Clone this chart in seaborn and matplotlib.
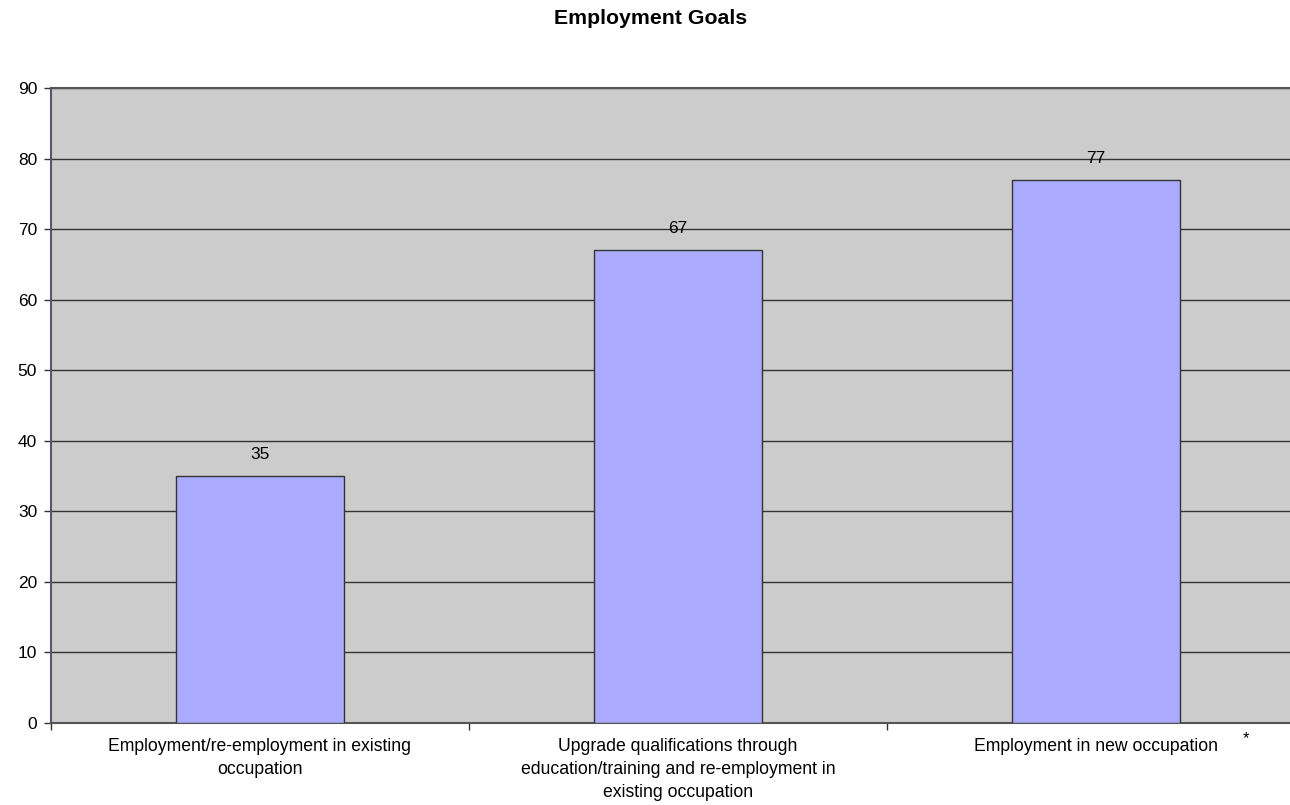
import matplotlib
matplotlib.use("Agg")
import matplotlib.pyplot as plt
import seaborn as sns
import pandas as pd

categories = [
    "Employment/re-employment in existing\noccupation",
    "Upgrade qualifications through\neducation/training and re-employment in\nexisting occupation",
    "Employment in new occupation",
]
values = [35, 67, 77]
y_ticks = [0, 10, 20, 30, 40, 50, 60, 70, 80, 90]

sns.set_style("white")
plt.rcParams["font.family"] = ["Liberation Sans", "DejaVu Sans"]
plt.rcParams["text.color"] = "black"
plt.rcParams["xtick.labelcolor"] = "black"
plt.rcParams["ytick.labelcolor"] = "black"

df = pd.DataFrame({"goal": categories, "count": values})

fig = plt.figure(figsize=(12.9, 8.05), dpi=100)
ax = fig.add_axes([51 / 1290, 1 - 723 / 805, (1305 - 51) / 1290, (723 - 88) / 805])
ax.set_facecolor("#CCCCCC")

sns.barplot(data=df, x="goal", y="count", color="#AAAAFF", width=0.4,
            edgecolor="#333333", linewidth=1.0, saturation=1, ax=ax, zorder=3)

ax.set_ylim(0, 90)
ax.set_xlim(-0.5, 2.5)
ax.set_yticks(y_ticks)
ax.yaxis.grid(True, color="#333333", linewidth=1.0, zorder=1)
ax.set_axisbelow(True)
ax.set_xlabel("")
ax.set_ylabel("")

ax.tick_params(axis="y", length=5, width=1, color="#333333", labelsize=12.5,
               labelcolor="black", pad=5, left=True)
ax.set_xticks(range(len(categories)))
ax.set_xticklabels(categories, fontsize=12.7, linespacing=1.45, color="black")
ax.tick_params(axis="x", which="major", length=0, pad=11)
ax.set_xticks([-0.5, 0.5, 1.5, 2.5], minor=True)
ax.tick_params(axis="x", which="minor", length=5, width=1, color="#333333", bottom=True)

for side in ["top", "bottom", "left", "right"]:
    ax.spines[side].set_visible(True)
    ax.spines[side].set_color("#555555")
    ax.spines[side].set_linewidth(1.5)
ax.spines["left"].set_color("#55557A")

for container in ax.containers:
    ax.bar_label(container, labels=[str(v) for v in values], padding=10,
                 fontsize=12.5, color="black")

fig.text(0.504, 0.977, "Employment Goals", ha="center", va="center",
         fontsize=15.3, fontweight="bold", color="black")
fig.text(0.966, 0.083, "*", ha="center", va="center", fontsize=12, color="black")

fig.savefig("out.png", dpi=100)
